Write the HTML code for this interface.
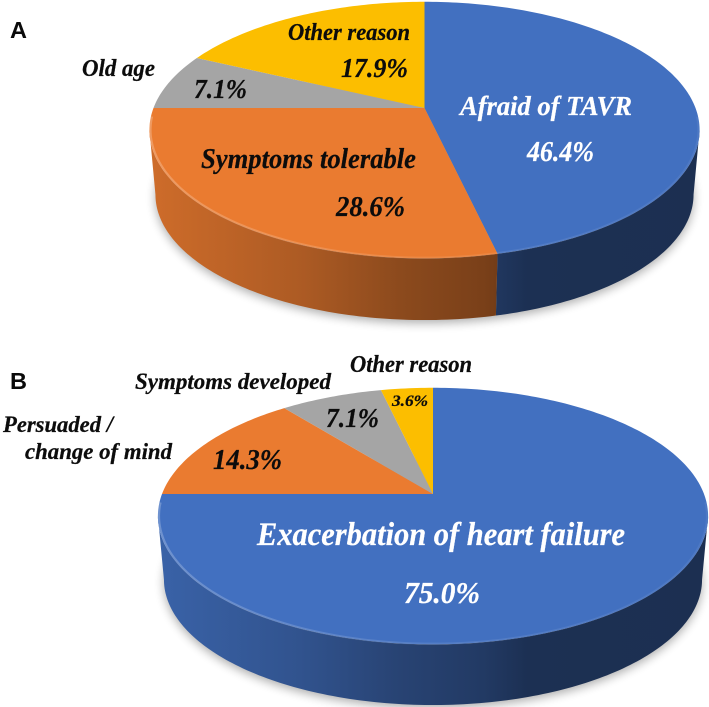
<!DOCTYPE html>
<html lang="en">
<head>
<meta charset="utf-8">
<title>Reasons pie charts</title>
<style>
html,body{margin:0;padding:0;background:#fff;width:709px;height:707px;overflow:hidden}
svg{display:block;filter:blur(.35px)}
.lab{font-family:"Liberation Serif",serif;font-weight:bold;font-style:italic;fill:#0c0c0c;stroke:#0c0c0c;stroke-width:.25px}
.w{fill:#fff;stroke:#fff}
.panel{font-family:"Liberation Sans",sans-serif;font-weight:bold;font-size:23.5px;fill:#0a0a0a}
</style>
</head>
<body>
<svg id="chart" xmlns="http://www.w3.org/2000/svg" width="709" height="707" viewBox="0 0 709 707">
  <defs>
    <filter id="soft" x="-10%" y="-20%" width="120%" height="150%"><feGaussianBlur stdDeviation="5"/></filter>
    <linearGradient id="rim" gradientUnits="userSpaceOnUse" x1="150" y1="0" x2="705" y2="0">
      <stop offset="0" stop-color="#fff" stop-opacity=".24"/>
      <stop offset=".5" stop-color="#fff" stop-opacity=".1"/>
      <stop offset="1" stop-color="#fff" stop-opacity=".06"/>
    </linearGradient>
  </defs>
  <g id="pie-a"></g>
  <g id="pie-b"></g>

  <text class="panel" x="10" y="38">A</text>
  <text class="lab" x="288" y="40" font-size="24" textLength="122" lengthAdjust="spacingAndGlyphs">Other reason</text>
  <text class="lab" x="82" y="76" font-size="24" textLength="73" lengthAdjust="spacingAndGlyphs">Old age</text>
  <text class="lab" x="201" y="168" font-size="28.5" textLength="215" lengthAdjust="spacingAndGlyphs">Symptoms tolerable</text>
  <text class="lab w" x="460" y="115" font-size="27.5" textLength="172" lengthAdjust="spacingAndGlyphs">Afraid of TAVR</text>

  <text class="panel" x="10" y="389">B</text>
  <text class="lab" x="350" y="372" font-size="24" textLength="122" lengthAdjust="spacingAndGlyphs">Other reason</text>
  <text class="lab" x="135" y="389" font-size="23" textLength="196" lengthAdjust="spacingAndGlyphs">Symptoms developed</text>
  <text class="lab" x="3" y="432" font-size="23" textLength="110" lengthAdjust="spacingAndGlyphs">Persuaded /</text>
  <text class="lab" x="25" y="459" font-size="23" textLength="147" lengthAdjust="spacingAndGlyphs">change of mind</text>
  <text class="lab w" x="257" y="545" font-size="32.5" textLength="368" lengthAdjust="spacingAndGlyphs">Exacerbation of heart failure</text>
  <g id="value-labels"></g>
</svg>
<script>
// Chart data
const categoriesA = ["Afraid of TAVR", "Symptoms tolerable", "Old age", "Other reason"];
const valuesA = [46.4, 28.6, 7.1, 17.9];
const categoriesB = ["Exacerbation of heart failure", "Persuaded / change of mind", "Symptoms developed", "Other reason"];
const valuesB = [75.0, 14.3, 7.1, 3.6];
const printedA = ["46.4%", "28.6%", "7.1%", "17.9%"];
const printedB = ["75.0%", "14.3%", "7.1%", "3.6%"];
const sliceColors = ["#4270c0", "#ea7b30", "#a5a5a5", "#fcbe00"];

const NS = "http://www.w3.org/2000/svg";
const RADIUS = 271, TILT = 0.172, YSCALE = 124.5, BOTTOM_SCALE = 0.978;
const FRONT_START = 99.9, FRONT_END = 260.1;
const defs = document.querySelector("#chart defs");

// Angle axis: data value -> clockwise degrees from 12 o'clock
function angleScale(values) {
  const total = values.reduce((a, b) => a + b, 0);
  return v => v / total * 360;
}
// Perspective projection of a point on the disc rim
function rimPoint(pie, deg, k, dy) {
  const r = deg * Math.PI / 180, u = Math.sin(r), v = Math.cos(r), d = 1 + TILT * v;
  return [pie.cx + k * RADIUS * u / d, pie.cy + dy - k * YSCALE * v / d];
}
function arcPoints(pie, a0, a1, k, dy) {
  const pts = [], n = Math.max(2, Math.ceil((a1 - a0) / 1));
  for (let i = 0; i <= n; i++) pts.push(rimPoint(pie, a0 + (a1 - a0) * i / n, k, dy));
  return pts;
}
function toPath(pts, close) {
  return "M" + pts.map(p => p[0].toFixed(2) + " " + p[1].toFixed(2)).join("L") + (close ? "Z" : "");
}
function shade(hex, f) {
  const n = parseInt(hex.slice(1), 16);
  const c = [n >> 16, (n >> 8) & 255, n & 255].map(x => Math.round(x * f));
  return "rgb(" + c.join(",") + ")";
}
function sideGradient(id, color) {
  const g = document.createElementNS(NS, "linearGradient");
  g.setAttribute("id", id);
  g.setAttribute("gradientUnits", "userSpaceOnUse");
  g.setAttribute("x1", "150"); g.setAttribute("x2", "705");
  g.setAttribute("y1", "0"); g.setAttribute("y2", "0");
  [[0, .88], [.27, .74], [.45, .6], [.6, .52], [.68, .43], [1, .42]].forEach(s => {
    const st = document.createElementNS(NS, "stop");
    st.setAttribute("offset", s[0]);
    st.setAttribute("stop-color", shade(color, s[1]));
    g.appendChild(st);
  });
  defs.appendChild(g);
}
function drawPie(groupId, key, pie, values, categories) {
  const group = document.getElementById(groupId);
  const toAngle = angleScale(values);
  let acc = 0;
  const spans = values.map(v => { const a0 = acc; acc += toAngle(v); return [a0, acc]; });

  const shadow = document.createElementNS(NS, "path");
  const shadowPts = arcPoints(pie, 0, 360, BOTTOM_SCALE, pie.depth + 3);
  shadow.setAttribute("d", toPath(shadowPts, true));
  shadow.setAttribute("fill", "#000");
  shadow.setAttribute("opacity", ".33");
  shadow.setAttribute("filter", "url(#soft)");
  
  
  group.appendChild(shadow);

  spans.forEach((s, i) => {
    const a0 = Math.max(s[0], FRONT_START), a1 = Math.min(s[1], FRONT_END);
    if (a1 <= a0) return;
    const gid = "side-" + key + "-" + i;
    sideGradient(gid, sliceColors[i]);
    const top = arcPoints(pie, a0, a1, 1, 0);
    const bot = arcPoints(pie, a0, a1, BOTTOM_SCALE, pie.depth).reverse();
    const wall = document.createElementNS(NS, "path");
    wall.setAttribute("d", toPath(top.concat(bot), true));
    wall.setAttribute("fill", "url(#" + gid + ")");
    
    
    group.appendChild(wall);
  });

  spans.forEach((s, i) => {
    const el = document.createElementNS(NS, "path");
    el.setAttribute("d", toPath([[pie.cx, pie.cy]].concat(arcPoints(pie, s[0], s[1], 1, 0)), true));
    el.setAttribute("fill", sliceColors[i]);
    
    
    group.appendChild(el);
  });

  const rim = document.createElementNS(NS, "path");
  rim.setAttribute("d", toPath(arcPoints(pie, FRONT_START - 6, FRONT_END + 6, 0.996, 0), false));
  rim.setAttribute("fill", "none");
  rim.setAttribute("stroke", "url(#rim)");
  rim.setAttribute("stroke-width", "2.2");
  
  
  group.appendChild(rim);
}
function valueLabel(text, x, y, size, width, white, name) {
  const el = document.createElementNS(NS, "text");
  el.setAttribute("class", white ? "lab w" : "lab");
  el.setAttribute("x", x);
  el.setAttribute("y", y);
  el.setAttribute("font-size", size);
  el.setAttribute("textLength", width);
  el.setAttribute("lengthAdjust", "spacingAndGlyphs");
  el.textContent = text;
  
  
  document.getElementById("value-labels").appendChild(el);
}

drawPie("pie-a", "a", { cx: 424.5, cy: 108, depth: 65 }, valuesA, categoriesA);
drawPie("pie-b", "b", { cx: 433, cy: 494, depth: 64 }, valuesB, categoriesB);

valueLabel(printedA[0], 527, 161, 28, 67, true, "value-afraid-of-tavr");
valueLabel(printedA[1], 336, 216, 28.5, 69, false, "value-symptoms-tolerable");
valueLabel(printedA[2], 194, 98, 27.5, 53, false, "value-old-age");
valueLabel(printedA[3], 341, 77, 27.5, 67, false, "value-other-reason-a");
valueLabel(printedB[0], 404, 603, 31, 76, true, "value-exacerbation");
valueLabel(printedB[1], 213, 469, 28.5, 69, false, "value-persuaded");
valueLabel(printedB[2], 326, 427, 27.5, 53, false, "value-symptoms-developed");
valueLabel(printedB[3], 392, 406, 15.5, 36, false, "value-other-reason-b");
</script>
</body>
</html>
